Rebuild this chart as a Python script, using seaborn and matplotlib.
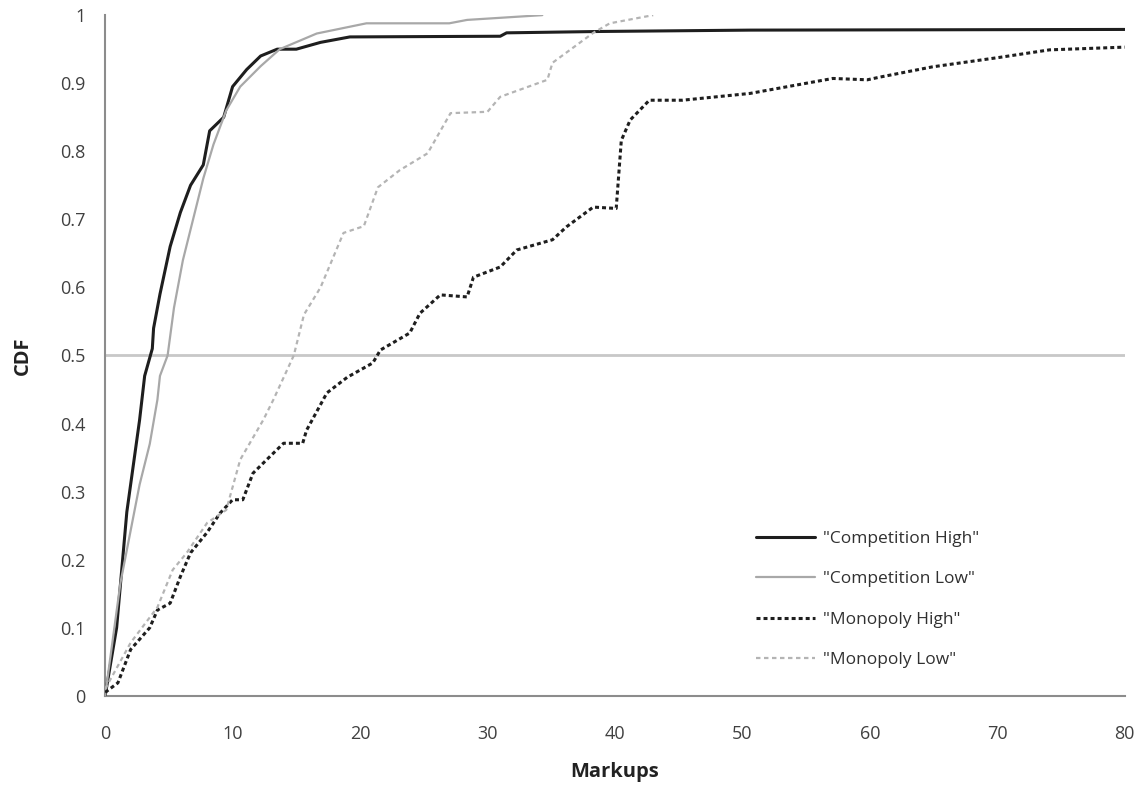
import numpy as np
import pandas as pd
import matplotlib
matplotlib.use('Agg')
import matplotlib.pyplot as plt
import seaborn as sns

# values
comp_high_x = [0, 0.9, 1.7, 2.7, 3.1, 3.7, 3.8, 4.3, 5.1, 5.9, 6.7, 7.7, 8.2, 9.3, 10.0,
               11.1, 12.2, 13.5, 15.0, 16.9, 19.2, 31.0, 31.5, 38.8, 50.6, 80]
comp_high_y = [0, 0.10, 0.27, 0.405, 0.47, 0.51, 0.54, 0.59, 0.66, 0.71, 0.75, 0.78, 0.83,
               0.85, 0.895, 0.92, 0.94, 0.95, 0.95, 0.96, 0.968, 0.969, 0.974, 0.976, 0.978, 0.979]

comp_low_x = [0, 1.2, 2.7, 3.5, 4.1, 4.3, 4.9, 5.4, 6.1, 6.9, 7.7, 8.5, 9.5, 10.6, 12.2,
              13.7, 16.6, 20.5, 27.0, 28.4, 34.3]
comp_low_y = [0, 0.166, 0.31, 0.37, 0.435, 0.47, 0.50, 0.57, 0.64, 0.70, 0.76, 0.81, 0.86,
              0.895, 0.925, 0.95, 0.973, 0.988, 0.988, 0.993, 1.0]

mono_high_x = [0, 1.0, 2.0, 3.5, 4.1, 5.1, 5.9, 6.7, 8.0, 9.0, 10.0, 10.8, 11.6, 12.9, 14.0,
               15.5, 15.8, 17.4, 19.0, 21.0, 21.6, 23.9, 24.7, 26.3, 28.4, 28.9, 31.0, 32.3,
               35.1, 36.2, 38.3, 40.1, 40.5, 41.2, 42.7, 45.3, 50.6, 57.1, 59.8, 60.8, 64.9,
               70.2, 74.1, 80]
mono_high_y = [0.005, 0.019, 0.068, 0.10, 0.126, 0.136, 0.175, 0.21, 0.24, 0.268, 0.288,
               0.288, 0.327, 0.351, 0.371, 0.371, 0.39, 0.445, 0.468, 0.489, 0.508, 0.533,
               0.562, 0.589, 0.586, 0.615, 0.630, 0.655, 0.67, 0.689, 0.718, 0.716, 0.816,
               0.846, 0.875, 0.875, 0.885, 0.907, 0.905, 0.909, 0.924, 0.938, 0.949, 0.953]

mono_low_x = [0, 2.0, 4.1, 5.3, 6.4, 8.0, 9.5, 10.6, 12.4, 13.2, 14.8, 15.6, 16.9, 18.7,
              20.3, 21.4, 23.1, 25.3, 27.1, 30.0, 31.0, 34.7, 35.1, 38.3, 39.6, 43.0]
mono_low_y = [0.01, 0.078, 0.13, 0.185, 0.21, 0.254, 0.273, 0.347, 0.405, 0.435, 0.50,
              0.56, 0.60, 0.68, 0.69, 0.747, 0.772, 0.797, 0.856, 0.858, 0.88, 0.905,
              0.93, 0.974, 0.988, 1.0]

labels = ['"Competition High"', '"Competition Low"', '"Monopoly High"', '"Monopoly Low"']

sns.set_style('white')
plt.rcParams['font.family'] = ['Open Sans', 'DejaVu Sans']

fig = plt.figure(figsize=(11.43, 7.97), dpi=100)
ax = fig.add_axes([0.092, 0.127, 0.892, 0.854])

# reference line at the median
ax.axhline(0.5, color='#c8c8c8', lw=2, zorder=1)

series = [
    (comp_high_x, comp_high_y, dict(color='#1e1e1e', lw=2.2)),
    (comp_low_x, comp_low_y, dict(color='#a8a8a8', lw=1.6)),
    (mono_high_x, mono_high_y, dict(color='#1e1e1e', lw=2.2, dashes=(1.3, 1.0))),
    (mono_low_x, mono_low_y, dict(color='#b4b4b4', lw=1.6, dashes=(2.0, 1.6))),
]
for (xs, ys, style), lab in zip(series, labels):
    d = pd.DataFrame({'x': xs, 'y': ys})
    ls = style.pop('dashes', None)
    sns.lineplot(data=d, x='x', y='y', ax=ax, estimator=None, sort=False,
                 label=lab, zorder=3, **style)
    if ls is not None:
        ax.lines[-1].set_dashes(ls)

ax.set_xlim(0, 80)
ax.set_ylim(0, 1)
ax.set_xticks(np.arange(0, 81, 10))
ax.set_yticks(np.arange(0, 1.01, 0.1))
ax.set_yticklabels([f'{v:g}' for v in np.round(np.arange(0, 1.01, 0.1), 1)])

for s in ['top', 'right']:
    ax.spines[s].set_visible(False)
for s in ['left', 'bottom']:
    ax.spines[s].set_color('#8c8c8c')
    ax.spines[s].set_linewidth(1.5)

ax.tick_params(axis='both', which='major', direction='out', length=5, width=1.2,
               color='#8c8c8c', labelsize=13, labelcolor='#404040')
ax.tick_params(axis='x', pad=16)
ax.tick_params(axis='y', pad=9)

ax.set_xlabel('Markups', fontsize=14.5, fontweight='bold', color='#222222', labelpad=14)
ax.set_ylabel('CDF', fontsize=14.5, fontweight='bold', color='#222222', labelpad=20)

leg = ax.legend(loc='upper left', bbox_to_anchor=(0.632, 0.252), borderaxespad=0,
                frameon=False, fontsize=12.5, handlelength=3.4, labelspacing=1.38,
                handletextpad=0.45)
for t in leg.get_texts():
    t.set_color('#303030')

fig.savefig('out.png', dpi=100)
